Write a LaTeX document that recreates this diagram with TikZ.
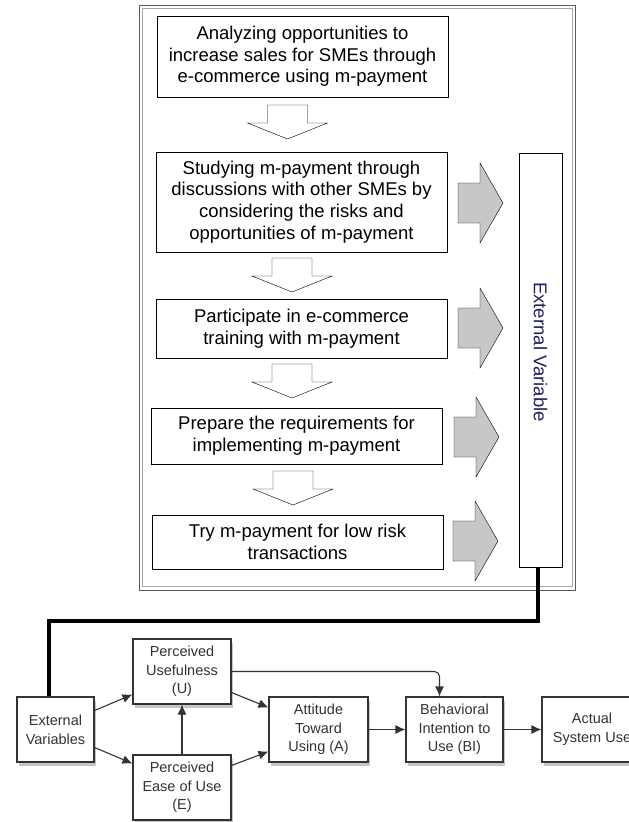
\documentclass[tikz,border=0pt]{standalone}
\usepackage{fontspec}
\setmainfont{Liberation Sans}
\usetikzlibrary{calc,shadows,arrows.meta}
\definecolor{evnavy}{rgb}{0.12,0.12,0.38}
\definecolor{tamgray}{rgb}{0.2,0.2,0.2}
\def\downblock(#1,#2){\draw[fill=white] ({#1-20},{#2}) -- ({#1+20},{#2}) -- ({#1+20},{#2+18}) -- ({#1+40},{#2+18}) -- ({#1},{#2+34}) -- ({#1-40},{#2+18}) -- ({#1-20},{#2+18}) -- cycle;}
\def\rightblock(#1,#2){\draw[fill=black!22] ({#1},{#2-20}) -- ({#1+22},{#2-20}) -- ({#1+22},{#2-40}) -- ({#1+45},{#2}) -- ({#1+22},{#2+40}) -- ({#1+22},{#2+20}) -- ({#1},{#2+20}) -- cycle;}
\tikzset{
  stepbox/.style={draw, line width=0.8pt, minimum width=291pt, align=center, inner sep=0pt, font=\fontsize{18.5}{21.7}\selectfont},
  tambox/.style={draw=tamgray, line width=1.1pt, fill=white, align=center, inner sep=0pt, text=tamgray, minimum height=65pt,
    font=\fontsize{14.5}{18.7}\selectfont, drop shadow={opacity=0.45, shadow xshift=1.5pt, shadow yshift=-4pt}},
  tamarrow/.style={draw=tamgray, line width=1.1pt, -{Latex[length=10pt,width=9pt]}}
}
\begin{document}
\begin{tikzpicture}[x=1pt,y=-1pt]
		%%%%% START %%%%%
		\useasboundingbox (0,0) rectangle (629,822);
		
		% double frame round the steps
		\draw[black!65, line width=0.9pt] (139,5) rectangle (575,590);
		\draw[black!35, line width=0.7pt] (142,8) rectangle (572,586);
		
		\node[stepbox, minimum height=81pt] (b1) at (302.5,56.5) {Analyzing opportunities to\\increase sales for SMEs through\\e-commerce using m-payment};
		\node[stepbox, minimum height=100pt] (b2) at (301.5,202) {Studying m-payment through\\discussions with other SMEs by\\considering the risks and\\opportunities of m-payment};
		\node[stepbox, minimum height=59pt] (b3) at (301.5,328.5) {Participate in e-commerce\\training with m-payment};
		\node[stepbox, minimum height=56pt] (b4) at (296.5,436) {Prepare the requirements for\\implementing m-payment};
		\node[stepbox, minimum height=54pt] (b5) at (297.5,542) {Try m-payment for low risk\\transactions};
		
		\downblock(287.5,105)
		\downblock(292,258)
		\downblock(292,364)
		\downblock(293,471)
		
		\rightblock(458,203)
		\rightblock(458,328)
		\rightblock(454,437)
		\rightblock(453,541)
		
		\node[draw, line width=0.8pt, minimum width=414pt, minimum height=43pt, inner sep=0pt, rotate=-90,
		      font=\fontsize{18.5}{21.7}\selectfont] (ev) at (540.5,360) {\textcolor{evnavy}{External Variable}\hspace*{16pt}};
		
		% TAM
		\node[tambox, minimum width=77pt] (ext) at (55.5,729.5) {External\\Variables};
		\node[tambox, minimum width=98pt] (pu) at (182,671.5) {Perceived\\Usefulness\\(U)};
		\node[tambox, minimum width=98pt] (peou) at (182,787.5) {Perceived\\Ease of Use\\(E)};
		\node[tambox, minimum width=99pt] (att) at (318.5,729.5) {Attitude\\Toward\\Using (A)};
		\node[tambox, minimum width=97pt] (bi) at (454.5,729.5) {Behavioral\\Intention to\\Use (BI)};
		\node[tambox, minimum width=100pt] (asu) at (592,729.5) {Actual\\System Use};
		
		\coordinate (bend) at (49,621);
		\draw[line width=4pt] ([xshift=-2.5pt]ev.east) |- (bend) -- ([xshift=-6.5pt]ext.north);
		
		\draw[tamarrow] ([yshift=19pt]ext.east) -- ([yshift=-23pt]pu.west);
		\draw[tamarrow] ([yshift=-18pt]ext.east) -- ([yshift=24pt]peou.west);
		\draw[tamarrow] (peou.north) -- (pu.south);
		\draw[tamarrow] ([yshift=-21pt]pu.east) -- ([yshift=22pt]att.west);
		\draw[tamarrow] ([yshift=22pt]peou.east) -- ([yshift=-22pt]att.west);
		\draw[tamarrow] (att.east) -- (bi.west);
		\draw[tamarrow] (bi.east) -- (asu.west);
		\draw[tamarrow, rounded corners=5pt] (pu.east) -| ([xshift=-15pt]bi.north);
		%%%%% END %%%%%
	\end{tikzpicture}
\end{document}
